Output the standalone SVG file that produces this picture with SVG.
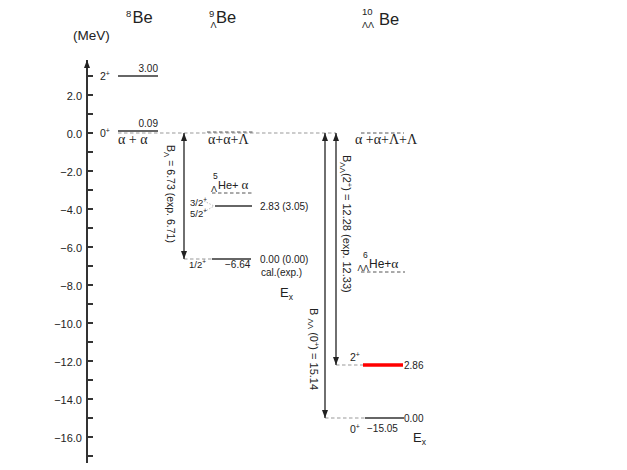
<svg xmlns="http://www.w3.org/2000/svg" width="627" height="470" viewBox="0 0 627 470">
<defs>
<style>
.ax{stroke:#333;stroke-width:2;fill:none}
.tk{stroke:#333;stroke-width:2}
.lv{stroke:#333;stroke-width:1.6}
.red{stroke:#ff0000;stroke-width:3.5}
.ds{stroke:#999;stroke-width:1;stroke-dasharray:3.5 2.5}
.dk{stroke:#555;stroke-width:1;stroke-dasharray:3.5 2.5}
.dt{stroke:#aaa;stroke-width:0.8;stroke-dasharray:1.5 1.5}
.ar{stroke:#222;stroke-width:1.3;fill:none}
.t{font-family:"Liberation Sans",Arial,sans-serif;fill:#222}
.g{font-family:"Liberation Serif","Times New Roman",serif;fill:#222}
.al{font-size:11px;text-anchor:end}
.n{font-size:10px}
</style>
<marker id="ah" viewBox="0 0 8 6" refX="8" refY="3" markerWidth="8" markerHeight="6" orient="auto-start-reverse" markerUnits="userSpaceOnUse">
<path d="M0,0 L8,3 L0,6 z" fill="#222"/>
</marker>
</defs>
<rect width="627" height="470" fill="#fff"/>

<g id="axis">
<line class="ax" x1="87" y1="463" x2="87" y2="60" marker-end="url(#ah)"/>
<g class="tk">
<line x1="87" y1="76" x2="93" y2="76"/><line x1="87" y1="95" x2="93" y2="95"/><line x1="87" y1="114" x2="93" y2="114"/>
<line x1="87" y1="133" x2="93" y2="133"/><line x1="87" y1="152" x2="93" y2="152"/><line x1="87" y1="171" x2="93" y2="171"/>
<line x1="87" y1="190" x2="93" y2="190"/><line x1="87" y1="209" x2="93" y2="209"/><line x1="87" y1="228" x2="93" y2="228"/>
<line x1="87" y1="247" x2="93" y2="247"/><line x1="87" y1="266" x2="93" y2="266"/><line x1="87" y1="285" x2="93" y2="285"/>
<line x1="87" y1="304" x2="93" y2="304"/><line x1="87" y1="323" x2="93" y2="323"/><line x1="87" y1="342" x2="93" y2="342"/>
<line x1="87" y1="361" x2="93" y2="361"/><line x1="87" y1="380" x2="93" y2="380"/><line x1="87" y1="399" x2="93" y2="399"/>
<line x1="87" y1="418" x2="93" y2="418"/><line x1="87" y1="437" x2="93" y2="437"/><line x1="87" y1="456" x2="93" y2="456"/>
</g>
<g class="t al">
<text x="82" y="99.5">2.0</text>
<text x="82" y="137.5">0.0</text>
<text x="82" y="175.5">−2.0</text>
<text x="82" y="213.5">−4.0</text>
<text x="82" y="251.5">−6.0</text>
<text x="82" y="289.5">−8.0</text>
<text x="82" y="327.5">−10.0</text>
<text x="82" y="365.5">−12.0</text>
<text x="82" y="403.5">−14.0</text>
<text x="82" y="441.5">−16.0</text>
</g>
<text class="t" x="73" y="40" font-size="13.5">(MeV)</text>
</g>

<g id="title-8Be">
<text class="t" x="126" y="17" font-size="9.5">8</text>
<text class="t" x="132.5" y="23" font-size="16.5">Be</text>
</g>
<g id="title-9LBe">
<text class="t" x="209" y="17" font-size="9.5">9</text>
<text class="t" x="210.5" y="28" font-size="9">Λ</text>
<text class="t" x="216" y="23" font-size="16.5">Be</text>
</g>
<g id="title-10LLBe">
<text class="t" x="362" y="15" font-size="9.5">10</text>
<text class="t" x="362" y="28" font-size="9">ΛΛ</text>
<text class="t" x="379" y="25" font-size="16.5">Be</text>
</g>

<g id="zero-line">
<line class="ds" x1="118" y1="133" x2="336" y2="133"/>
</g>

<g id="be8-2plus">
<line class="lv" x1="118" y1="76" x2="158" y2="76"/>
<text class="t n" x="158" y="72" text-anchor="end">3.00</text>
<text class="t" x="100" y="80" font-size="10.5">2<tspan font-size="7" dy="-4">+</tspan></text>
</g>
<g id="be8-0plus">
<line class="lv" x1="118" y1="131" x2="158" y2="131"/>
<text class="t n" x="158" y="127" text-anchor="end">0.09</text>
<text class="t" x="100" y="137" font-size="10.5">0<tspan font-size="7" dy="-4">+</tspan></text>
<text class="g" x="118" y="144" font-size="14">α + α</text>
</g>

<g id="be9-threshold">
<line class="dk" x1="207" y1="132" x2="255" y2="132"/>
<text class="g" x="208" y="144" font-size="14">α+α+Λ</text>
</g>
<g id="be9-he5alpha">
<line class="dk" x1="212" y1="193" x2="252" y2="193"/>
<text class="t" x="213" y="178.5" font-size="8.5">5</text>
<text class="t" x="211" y="191.5" font-size="9">Λ</text>
<text class="t" x="218" y="189" font-size="11">He+ <tspan class="g" font-size="13">α</tspan></text>
</g>
<g id="be9-excited">
<line class="lv" x1="215" y1="206" x2="252" y2="206"/>
<line class="dt" x1="204" y1="201" x2="214" y2="206"/>
<line class="dt" x1="204" y1="212" x2="214" y2="206"/>
<text class="t" x="190" y="206" font-size="9.5">3/2<tspan font-size="6.5" dy="-4">+</tspan></text>
<text class="t" x="190" y="217" font-size="9.5">5/2<tspan font-size="6.5" dy="-4">+</tspan></text>
<text class="t n" x="260" y="210">2.83 (3.05)</text>
</g>
<g id="be9-ground">
<line class="ds" x1="184" y1="259" x2="212" y2="259"/>
<line class="lv" x1="212" y1="259" x2="251" y2="259"/>
<text class="t n" x="260" y="263">0.00 (0.00)</text>
<text class="t" x="189" y="268" font-size="9.5">1/2<tspan font-size="6.5" dy="-4">+</tspan></text>
<text class="t n" x="225" y="268">−6.64</text>
<text class="t n" x="261" y="275.5">cal.(exp.)</text>
<text class="t" x="280" y="297" font-size="13">E<tspan font-size="8.5" dy="3">x</tspan></text>
</g>

<g id="be10-threshold">
<line class="dk" x1="361" y1="133" x2="404" y2="133"/>
<text class="g" x="355" y="144" font-size="14">α +α+Λ+Λ</text>
</g>
<g id="be10-he6alpha">
<line class="dk" x1="361" y1="272" x2="405" y2="272"/>
<text class="t" x="363" y="257.5" font-size="8.5">6</text>
<text class="t" x="357.5" y="271" font-size="8.5">ΛΛ</text>
<text class="t" x="369" y="268" font-size="12">He+<tspan class="g" font-size="13.5">α</tspan></text>
</g>
<g id="be10-2plus">
<line class="ds" x1="336" y1="365" x2="363" y2="365"/>
<line class="red" x1="363" y1="365" x2="403" y2="365"/>
<text class="t n" x="404" y="369">2.86</text>
<text class="t" x="350" y="361" font-size="10.5">2<tspan font-size="7" dy="-4">+</tspan></text>
</g>
<g id="be10-0plus">
<line class="ds" x1="325" y1="418" x2="365" y2="418"/>
<line class="lv" x1="365" y1="418" x2="404" y2="418"/>
<text class="t n" x="404" y="422">0.00</text>
<text class="t" x="350" y="433" font-size="10.5">0<tspan font-size="7" dy="-4">+</tspan></text>
<text class="t n" x="367" y="432">−15.05</text>
<text class="t" x="413" y="442" font-size="13">E<tspan font-size="8.5" dy="3">x</tspan></text>
</g>

<g id="connectors">
<line class="ar" x1="184" y1="133" x2="184" y2="259" marker-start="url(#ah)" marker-end="url(#ah)"/>
<line class="ar" x1="336" y1="133" x2="336" y2="365" marker-start="url(#ah)" marker-end="url(#ah)"/>
<line class="ar" x1="325" y1="133" x2="325" y2="418" marker-start="url(#ah)" marker-end="url(#ah)"/>
<text class="t" transform="translate(167,145) rotate(90)" font-size="10.5">B<tspan font-size="8" dy="3">Λ</tspan><tspan dy="-3"> = 6.73 (exp. 6.71)</tspan></text>
<text class="t" transform="translate(342.5,155) rotate(90)" font-size="11">B<tspan font-size="8" dy="3">ΛΛ</tspan><tspan dy="-3">(2</tspan><tspan font-size="7.5" dy="-4">+</tspan><tspan dy="4">) = 12.28 (exp. 12.33)</tspan></text>
<text class="t" transform="translate(309.5,308) rotate(90)" font-size="11">B <tspan font-size="8" dy="2">ΛΛ</tspan><tspan dy="-2"> (0</tspan><tspan font-size="7.5" dy="-4">+</tspan><tspan dy="4">)  = 15.14</tspan></text>
</g>
</svg>
